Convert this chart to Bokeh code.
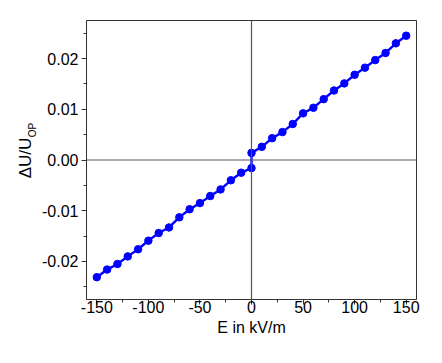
from bokeh.plotting import figure
from bokeh.models import FixedTicker, PrintfTickFormatter, Span, Label, Range1d
from bokeh.embed import file_html
from bokeh.resources import INLINE
import math

E = [-150, -140, -130, -120, -110, -100, -90, -80, -70, -60, -50, -40, -30, -20, -10,
     0, 0, 10, 20, 30, 40, 50, 60, 70, 80, 90, 100, 110, 120, 130, 140, 150]
dU = [-0.0231, -0.0216, -0.0205, -0.0190, -0.0176, -0.0159, -0.0144, -0.0133, -0.0113,
      -0.0097, -0.0085, -0.0071, -0.0058, -0.0040, -0.0025, -0.0016,
      0.0014, 0.0026, 0.0043, 0.0055, 0.0071, 0.0092, 0.0103, 0.0120, 0.0137,
      0.0151, 0.0168, 0.0182, 0.0197, 0.0211, 0.0230, 0.0245]

x_ticks = [-150, -100, -50, 0, 50, 100, 150]
x_minor = [-150, -125, -100, -75, -50, -25, 0, 25, 50, 75, 100, 125, 150]
y_ticks = [-0.02, -0.01, 0.0, 0.01, 0.02]
y_minor = [-0.025, -0.02, -0.015, -0.01, -0.005, 0.0, 0.005, 0.01, 0.015, 0.02, 0.025]

FONT = "Liberation Sans"

p = figure(width=434, height=355, output_backend="svg", toolbar_location=None,
           x_range=Range1d(-160, 160), y_range=Range1d(-0.0275, 0.0275),
           min_border_left=86, min_border_right=18, min_border_top=20, min_border_bottom=56)

p.grid.visible = False
p.background_fill_color = "white"
p.border_fill_color = "white"
p.outline_line_color = "#333333"
p.outline_line_width = 1

for ax in (p.xaxis[0], p.yaxis[0]):
    ax.axis_line_color = "#333333"
    ax.major_tick_line_color = "#333333"
    ax.minor_tick_line_color = "#333333"
    ax.major_tick_out = 5
    ax.major_tick_in = 0
    ax.minor_tick_out = 3
    ax.minor_tick_in = 0
    ax.major_label_text_font = FONT
    ax.major_label_text_font_size = "16px"
    ax.major_label_text_color = "black"
    ax.axis_label_text_font = FONT
    ax.axis_label_text_font_size = "16px"
    ax.axis_label_text_font_style = "normal"
    ax.axis_label_text_color = "black"

p.xaxis.ticker = FixedTicker(ticks=x_ticks, minor_ticks=x_minor)
p.yaxis.ticker = FixedTicker(ticks=y_ticks, minor_ticks=y_minor)
p.xaxis.formatter = PrintfTickFormatter(format="%d")
p.yaxis.formatter = PrintfTickFormatter(format="%.2f")
p.xaxis.major_label_standoff = -4
p.yaxis.major_label_standoff = 3
p.xaxis.axis_label = "E in kV/m"
p.xaxis.axis_label_standoff = 3
p.yaxis.axis_label = ""

p.add_layout(Span(location=0, dimension="width", line_color="#555555", line_width=1.2))
p.add_layout(Span(location=0, dimension="height", line_color="#555555", line_width=1.2))

p.line(E, dU, line_color="#0000ff", line_width=2.4)
p.scatter(E, dU, size=7.5, fill_color="#0000ff", line_color="#0000ff")

p.add_layout(Label(x=25, y=157.5, x_units="canvas", y_units="canvas", text="ΔU/U",
                   angle=math.pi / 2, text_align="center", text_baseline="middle",
                   text_font=FONT, text_font_size="17px", text_color="black"), "left")
p.add_layout(Label(x=31.5, y=129.5, x_units="canvas", y_units="canvas", text="OP",
                   angle=math.pi / 2, text_align="center", text_baseline="middle",
                   text_font=FONT, text_font_size="10px", text_color="black"), "left")

open("out.html", "w").write(file_html(p, INLINE))
